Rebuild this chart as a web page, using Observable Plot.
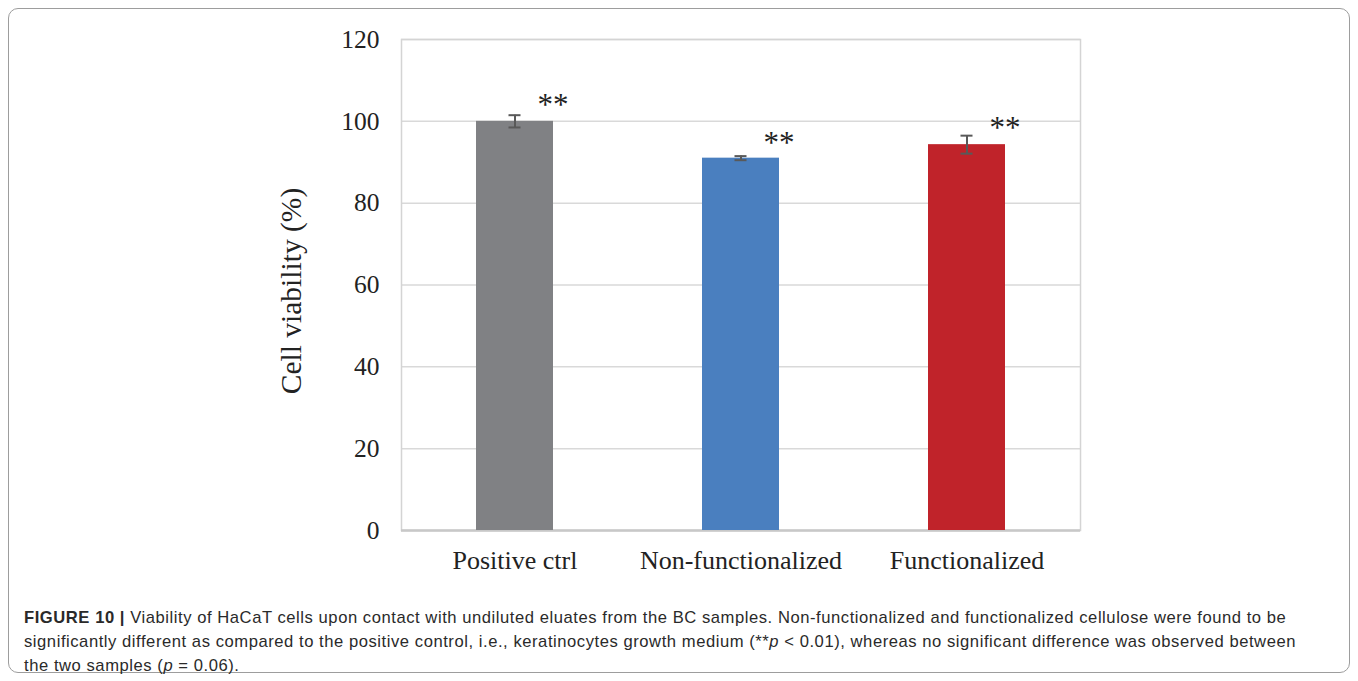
<!DOCTYPE html>
<html>
<head>
<meta charset="utf-8">
<script src="https://cdn.jsdelivr.net/npm/d3@7"></script>
<script src="https://cdn.jsdelivr.net/npm/@observablehq/plot@0.6"></script>
<style>
  html, body { margin: 0; padding: 0; background: #fff; }
  #frame { position: absolute; left: 8px; top: 8px; width: 1340px; height: 663px;
           border: 1.5px solid #9d9d9d; border-radius: 10px; }
  #chart { position: absolute; left: 0; top: 0; }
  #caption { position: absolute; left: 24px; top: 606px; width: 1320px; white-space: nowrap;
             font-family: "Liberation Sans", Arial, sans-serif; font-size: 16.6px; letter-spacing: 0.55px;
             line-height: 24px; color: #2a2a2a; }
  #caption b { font-weight: bold; }
</style>
</head>
<body>
<div id="frame"></div>
<div id="chart"></div>
<div id="caption"><b>FIGURE 10 |</b> Viability of HaCaT cells upon contact with undiluted eluates from the BC samples. Non-functionalized and functionalized cellulose were found to be<br>significantly different as compared to the positive control, i.e., keratinocytes growth medium (**<i>p</i> &lt; 0.01), whereas no significant difference was observed between<br>the two samples (<i>p</i> = 0.06).</div>
<script>
const categories = ["Positive ctrl", "Non-functionalized", "Functionalized"];
const means = [100, 91.0, 94.3];
const errors = [1.5, 0.5, 2.2];
const starY = [105.1, 95.8, 99.5];
const starLabels = ["**", "**", "**"];
const colors = ["#808184", "#4a7fbf", "#c0232a"];
const yTicks = [0, 20, 40, 60, 80, 100, 120];
const yLabel = "Cell viability (%)";

const data = categories.map((c, i) => ({
  cat: c, mean: means[i], lo: means[i] - errors[i], hi: means[i] + errors[i],
  star: starY[i], starText: starLabels[i], color: colors[i]
}));

const serif = "'Liberation Serif', 'Times New Roman', serif";

const chart = Plot.plot({
  width: 1358,
  height: 590,
  marginLeft: 401,
  marginRight: 278,
  marginTop: 39,
  marginBottom: 60,
  style: { fontFamily: serif, background: "transparent" },
  x: { domain: categories, paddingInner: 0.66, paddingOuter: 0.33 },
  y: { domain: [0, 120] },
  marks: [
    Plot.gridY(yTicks, { stroke: "#d9d9d9", strokeOpacity: 1, strokeWidth: 1.5 }),
    Plot.frame({ stroke: "#d4d4d4", strokeWidth: 1.5 }),
    Plot.ruleY([0], { stroke: "#c8c8c8", strokeWidth: 2.5 }),
    Plot.barY(data, { x: "cat", y: "mean", fill: "color" }),
    Plot.ruleX(data, { x: "cat", y1: "lo", y2: "hi", stroke: "#595959", strokeWidth: 2 }),
    Plot.tickY(data, { x: "cat", y: "lo", stroke: "#595959", strokeWidth: 2, insetLeft: 32.5, insetRight: 32.5 }),
    Plot.tickY(data, { x: "cat", y: "hi", stroke: "#595959", strokeWidth: 2, insetLeft: 32.5, insetRight: 32.5 }),
    Plot.text(data, { x: "cat", y: "star", text: "starText", dx: 38, dy: 5, fontSize: 31, fill: "#222", fontFamily: serif, style: "letter-spacing: 3px" }),
    Plot.axisY(yTicks, { tickSize: 0, tickPadding: 22, fontSize: 25.5, fill: "#222", label: null, fontFamily: serif }),
    Plot.axisX({ tickSize: 0, tickPadding: 20, fontSize: 26, fill: "#222", label: null, fontFamily: serif }),
    Plot.text([yLabel], { frameAnchor: "left", textAnchor: "middle", rotate: -90, dx: -110, dy: 6, fontSize: 29.5, fill: "#222", fontFamily: serif })
  ]
});
document.getElementById("chart").appendChild(chart);
</script>
</body>
</html>
